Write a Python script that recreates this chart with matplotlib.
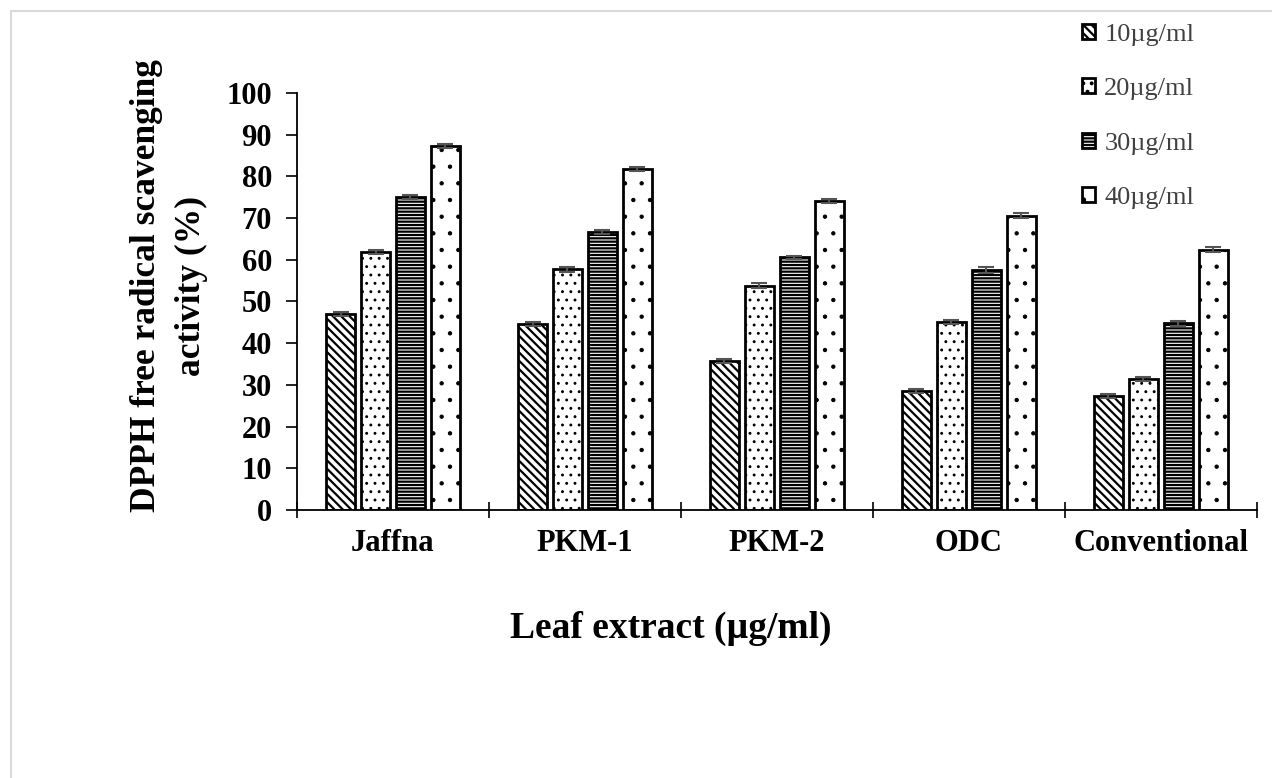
import matplotlib.pyplot as plt
import numpy as np
from matplotlib.patches import Rectangle

plt.rcParams['font.family'] = ['Liberation Serif', 'DejaVu Serif']
plt.rcParams['hatch.linewidth'] = 1.6

extracts = ["Jaffna", "PKM-1", "PKM-2", "ODC", "Conventional"]
doses = ["10µg/ml", "20µg/ml", "30µg/ml", "40µg/ml"]
act_10 = [47.0, 44.5, 35.8, 28.5, 27.3]
act_20 = [61.8, 57.7, 53.8, 45.0, 31.5]
act_30 = [75.0, 66.7, 60.6, 57.6, 44.8]
act_40 = [87.2, 81.7, 74.0, 70.6, 62.4]
err_10 = [0.5, 0.5, 0.5, 0.4, 0.4]
err_20 = [0.5, 0.6, 0.6, 0.5, 0.5]
err_30 = [0.5, 0.5, 0.4, 0.7, 0.6]
err_40 = [0.5, 0.5, 0.5, 0.5, 0.6]

values = [act_10, act_20, act_30, act_40]
errors = [err_10, err_20, err_30, err_40]
hatches = ['\\\\\\\\', '..', '-----', '.']
hatch_lw = [1.6, 0.9, 1.6, 0.7]

fig = plt.figure(figsize=(12.72, 7.78), dpi=100)
ax = fig.add_axes([0.2335, 0.3445, 0.7545, 0.536])

x = np.arange(len(extracts))
w = 0.151
pitch = 0.182
for i in range(4):
    pos = x + (i - 1.5) * pitch
    bars = ax.bar(pos, values[i], width=w, color='white', edgecolor='black',
                  hatch=hatches[i], linewidth=2, label=doses[i], zorder=2)
    for b in bars:
        if hasattr(b, 'set_hatch_linewidth'):
            b.set_hatch_linewidth(hatch_lw[i])
    ax.errorbar(pos, values[i], yerr=errors[i], fmt='none', ecolor='#555555',
                elinewidth=1.5, capsize=6, capthick=1.5, zorder=3)

ax.set_xlim(-0.5, len(extracts) - 0.5)
ax.set_ylim(0, 100)
ax.set_yticks(np.arange(0, 101, 10))
ax.set_xticks(x)
ax.set_xticklabels(extracts)
ax.set_xticks(np.arange(-0.5, len(extracts)), minor=True)
ax.tick_params(axis='x', which='major', length=0, pad=14)
ax.tick_params(axis='x', which='minor', length=12, width=1.2, direction='inout')
ax.tick_params(axis='y', length=8, width=1.2, pad=10)
for lab in ax.get_xticklabels() + ax.get_yticklabels():
    lab.set_fontsize(22)
    lab.set_fontweight('bold')

for s in ['top', 'right']:
    ax.spines[s].set_visible(False)
for s in ['left', 'bottom']:
    ax.spines[s].set_linewidth(1.3)

fig.text(671 / 1272, 1 - 628 / 778, "Leaf extract (µg/ml)", fontsize=27,
         fontweight='bold', ha='center', va='center')
fig.text(0.133, 0.633, "DPPH free radical scavenging\nactivity (%)", rotation=90,
         fontsize=25.5, fontweight='bold', ha='center', va='center',
         linespacing=1.5)

leg = ax.legend(loc='upper left', bbox_to_anchor=(0.793, 1.222), frameon=False,
                fontsize=19, handlelength=0.5, handleheight=0.5,
                handletextpad=0.35, labelspacing=1.22)
for t in leg.get_texts():
    t.set_color('#404040')

fig.patches.append(Rectangle((11 / 1272, -0.1), 1.2, 1.1 - 11 / 778,
                             transform=fig.transFigure, fill=False,
                             edgecolor='#d9d9d9', linewidth=1.5))

fig.savefig("out.png", dpi=100)
